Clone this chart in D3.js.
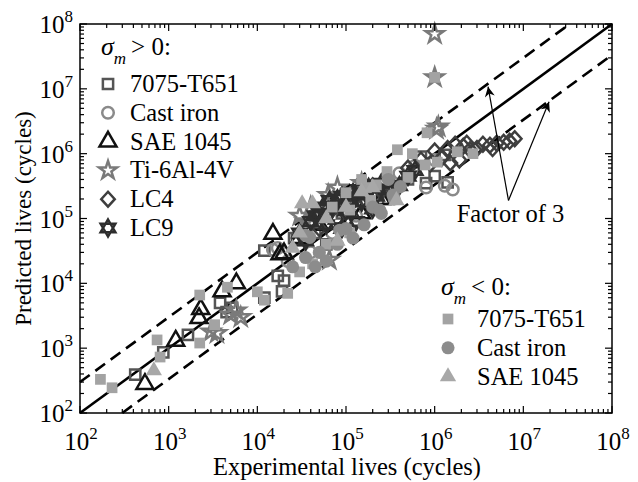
<!DOCTYPE html>
<html lang="en">
<head>
    <title>Predicted vs experimental lives</title>
    <script src='https://d3js.org/d3.v7.min.js'></script>
    <style>
        body { margin: 0; background: #fff; }
        text { font-family: "Liberation Serif", "Times New Roman", serif; fill: #000; }
    </style>
</head>
<body>
<script>

// experimental life vs predicted life, in cycles  [exp, pred]
var sq7075Pos = [[420, 390], [870, 860], [1650, 1600], [3800, 5000], [4500, 3600], [5200, 4200],
    [1.2e4, 6000], [1.9e4, 7500], [2.0e4, 1.1e4], [1.2e4, 3.2e4], [2.6e4, 5e4], [1.7e4, 1.3e4],
    [2.8e4, 4.7e4], [4.5e4, 6e4], [6e4, 4e4], [9e4, 1.2e5], [1.3e5, 1.6e5], [2e5, 2.5e5],
    [3e5, 2e5], [5e5, 4e5], [8e5, 3.5e5], [1.4e6, 3.6e5], [1.3e6, 9.6e5], [7e5, 9e5], [1.0e6, 4.5e5]];
var circCastPos = [[1.6e6, 2.8e5], [1.7e4, 3.5e4], [1.5e4, 3.3e4], [2.2e4, 2.2e4], [4e4, 3e4],
    [7e4, 6e4], [1.3e5, 1.1e5], [2.5e5, 2.8e5], [4e5, 5e5], [6e5, 6.5e5], [8e5, 3e5], [1.0e6, 8e5], [1.3e6, 3.2e5]];
var triSaePos = [[540, 280], [1200, 1300], [2200, 2900], [2300, 4000], [4000, 7500], [5800, 1e4],
    [1.5e4, 5.8e4], [2e4, 2.9e4], [1.8e4, 2.8e4], [3e4, 5e4], [5e4, 8e4], [8e4, 1e5], [1.5e5, 1.2e5], [2.5e5, 2e5]];
var starTiPos = [[1e6, 7e7], [1e6, 1.5e7], [1.05e6, 2.4e6], [3000, 1800], [3500, 1700], [5000, 3300],
    [5800, 3800], [6500, 3000], [6.5e4, 2.3e4], [3e4, 1.1e5], [6.3e4, 2.3e5], [4e4, 1.5e5],
    [3.5e4, 9e4], [8e4, 3e5], [1.2e5, 2e5], [1.5e5, 3.5e5], [1.1e6, 2.6e6]];
var diamLc4Pos = [[5e4, 7e4], [8e4, 1e5], [1.1e5, 1.6e5], [1.6e5, 2e5], [2.5e5, 2.6e5], [3.5e5, 3e5],
    [5e5, 6e5], [7e5, 8e5], [9e5, 7e5], [1.2e6, 8.5e5], [1.5e6, 7.2e5], [1.9e6, 8e5], [1.4e6, 1.2e6],
    [1.7e6, 1.4e6], [2.1e6, 1.3e6], [2.5e6, 1.15e6], [3e6, 1.2e6], [3.5e6, 1.4e6], [4.2e6, 1.35e6],
    [5e6, 1.45e6], [6e6, 1.5e6], [7e6, 1.55e6], [8e6, 1.7e6], [2.3e6, 1.45e6], [4.5e6, 1.2e6], [1.0e6, 1.1e6],
    [6e4, 1.3e5], [9e4, 1.6e5], [1.3e5, 2.2e5], [2e5, 3.2e5]];
var hexLc9Pos = [[3e4, 6e4], [4e4, 9e4], [5e4, 1.2e5], [6e4, 8e4], [7e4, 1.5e5], [8e4, 2e5],
    [1e5, 1.3e5], [1.2e5, 2.5e5], [1.5e5, 1.8e5], [1.8e5, 3e5], [2.2e5, 2.2e5], [2.5e5, 3.5e5],
    [3e5, 2.8e5], [4e5, 3.2e5], [5e5, 4.5e5], [3.5e4, 4.5e4], [9e4, 7e4], [1.3e5, 9e4], [6e5, 5.5e5], [2e5, 1.4e5],
    [4.5e4, 1.1e5], [5.5e4, 1.5e5], [6.5e4, 1.9e5], [9e4, 2.2e5], [1.1e5, 1.9e5], [1.4e5, 2.8e5], [1.7e5, 2.3e5]];
var sq7075Neg = [[170, 330], [230, 245], [740, 1340], [800, 730], [2240, 6600], [2240, 1200], [3300, 2300],
    [4600, 8700], [1e4, 7400], [1.2e4, 5500], [2.2e4, 7000], [3e4, 1.5e4], [4.2e4, 2e4], [6e4, 4e4],
    [1.1e5, 6e4], [3.8e5, 1.15e6], [2.9e5, 5.3e5], [5e5, 4.3e5], [7.8e5, 6.7e5], [8.2e5, 2.1e6],
    [2.2e5, 3.3e5], [5.6e5, 1e6], [1.07e6, 7.4e5], [1.8e6, 1.07e6], [2.7e6, 1.0e6], [1.7e5, 3e5],
    [1.1e5, 1.35e5], [1.9e5, 1.9e5], [1e5, 2.5e5], [1.5e5, 4e5], [7e4, 1.5e5], [1e6, 1.5e7]];
var circCastNeg = [[3.5e4, 2.5e4], [4.5e4, 1.8e4], [5e4, 3e4], [6e4, 2.2e4], [8e4, 4e4], [1.2e5, 5e4],
    [1e5, 7e4], [1.6e5, 8e4], [2e5, 1.5e5], [2.5e5, 1.2e5], [3.5e5, 2e5], [2.5e4, 1.8e4], [3e5, 4e5],
    [3.5e4, 5.5e4], [8.5e4, 6.6e4], [3.9e4, 5.1e4], [4.1e5, 3.1e5], [3.4e5, 2.3e5], [2.4e5, 1.35e5]];
var triSaeNeg = [[680, 450], [4.2e4, 1.7e5], [3.2e4, 1.7e5], [2.5e4, 3.5e4], [6e4, 1e5], [3.7e5, 1.9e5],
    [1e5, 1.5e5], [1.5e5, 2.6e5], [3e4, 6e4], [2e5, 3e5], [8e4, 4.5e4]];

var posNames = ["7075-T651", "Cast iron", "SAE 1045", "Ti-6Al-4V", "LC4", "LC9"];
var negNames = ["7075-T651", "Cast iron", "SAE 1045"];
var decades = [1e2, 1e3, 1e4, 1e5, 1e6, 1e7, 1e8];
var factor = 3;

const width = 638, height = 482;
const mLeft = 80, mRight = 612, mTop = 24, mBottom = 413;

const svg = d3.select("body").append("svg")
    .attr("width", width).attr("height", height);

const x = d3.scaleLog().domain([1e2, 1e8]).range([mLeft, mRight]);
const y = d3.scaleLog().domain([1e2, 1e8]).range([mBottom, mTop]);

// custom marker shapes
const diamond = {
    draw(ctx, size) {
        const w = Math.sqrt(size) * 0.66, h = w * 1.1;
        ctx.moveTo(0, -h); ctx.lineTo(w, 0); ctx.lineTo(0, h); ctx.lineTo(-w, 0); ctx.closePath();
    }
};
const hexagram = {
    draw(ctx, size) {
        const r = Math.sqrt(size) * 0.85;
        [-90, 90].forEach(function (a0) {
            for (let k = 0; k < 3; k++) {
                const a = (a0 + k * 120) * Math.PI / 180;
                if (k == 0) ctx.moveTo(r * Math.cos(a), r * Math.sin(a));
                else ctx.lineTo(r * Math.cos(a), r * Math.sin(a));
            }
            ctx.closePath();
        });
    }
};

var openSeries = [
    { data: sq7075Pos,  type: d3.symbolSquare,   size: 105, color: "#555555" },
    { data: circCastPos, type: d3.symbolCircle,  size: 105, color: "#8a8a8a" },
    { data: triSaePos,  type: d3.symbolTriangle, size: 125, color: "#111111" },
    { data: starTiPos,  type: d3.symbolStar,     size: 100, color: "#7a7a7a" },
    { data: diamLc4Pos, type: diamond,           size: 105, color: "#3e3e3e" },
    { data: hexLc9Pos,  type: hexagram,          size: 100, color: "#2e2e2e" }
];
var filledSeries = [
    { data: sq7075Neg,  type: d3.symbolSquare,   size: 115, color: "#a3a3a3" },
    { data: circCastNeg, type: d3.symbolCircle,  size: 135, color: "#8c8c8c" },
    { data: triSaeNeg,  type: d3.symbolTriangle, size: 115, color: "#a8a8a8" }
];

// reference lines: 1:1 and factor of 3
var lines = [
    { k: 1,          dash: null },
    { k: factor,     dash: "12,7" },
    { k: 1 / factor, dash: "12,7" }
];
lines.forEach(function (l) {
    const x0 = Math.max(1e2, 1e2 / l.k), x1 = Math.min(1e8, 1e8 / l.k);
    svg.append("line")
        .attr("x1", x(x0)).attr("y1", y(x0 * l.k))
        .attr("x2", x(x1)).attr("y2", y(x1 * l.k))
        .attr("stroke", "#000").attr("stroke-width", 2.6)
        .attr("stroke-dasharray", l.dash);
});

// points
openSeries.forEach(function (s) {
    svg.append("g").selectAll("path").data(s.data).enter().append("path")
        .attr("transform", function (d) { return "translate(" + x(d[0]) + "," + y(d[1]) + ")"; })
        .attr("d", d3.symbol().type(s.type).size(s.size))
        .attr("fill", "none").attr("stroke", s.color).attr("stroke-width", 2.5);
});
filledSeries.forEach(function (s) {
    svg.append("g").selectAll("path").data(s.data).enter().append("path")
        .attr("transform", function (d) { return "translate(" + x(d[0]) + "," + y(d[1]) + ")"; })
        .attr("d", d3.symbol().type(s.type).size(s.size))
        .attr("fill", s.color);
});

// frame and ticks (inward, all four sides)
svg.append("rect").attr("x", mLeft).attr("y", mTop)
    .attr("width", mRight - mLeft).attr("height", mBottom - mTop)
    .attr("fill", "none").attr("stroke", "#000").attr("stroke-width", 1.5);

const ticks = x.ticks();
const isMajor = function (v) { return Math.abs(Math.log10(v) - Math.round(Math.log10(v))) < 1e-6; };
const tg = svg.append("g").attr("stroke", "#000").attr("stroke-width", 1.2);
ticks.forEach(function (v) {
    const len = isMajor(v) ? 7 : 4;
    tg.append("line").attr("x1", x(v)).attr("x2", x(v)).attr("y1", mBottom).attr("y2", mBottom - len);
    tg.append("line").attr("x1", x(v)).attr("x2", x(v)).attr("y1", mTop).attr("y2", mTop + len);
    tg.append("line").attr("y1", y(v)).attr("y2", y(v)).attr("x1", mLeft).attr("x2", mLeft + len);
    tg.append("line").attr("y1", y(v)).attr("y2", y(v)).attr("x1", mRight).attr("x2", mRight - len);
});

// tick labels 10^n
decades.forEach(function (v) {
    const n = Math.round(Math.log10(v));
    const tx = svg.append("text").attr("x", x(v) + 1).attr("y", mBottom + 37)
        .attr("text-anchor", "middle").attr("font-size", 25);
    tx.append("tspan").text("10");
    tx.append("tspan").attr("dy", -11).attr("font-size", 17).text(n);

    const ty = svg.append("text").attr("x", mLeft - 7).attr("y", y(v) + 9)
        .attr("text-anchor", "end").attr("font-size", 25);
    ty.append("tspan").text("10");
    ty.append("tspan").attr("dy", -11).attr("font-size", 17).text(n);
});

// axis titles
svg.append("text").attr("x", (mLeft + mRight) / 2 + 1).attr("y", 475)
    .attr("text-anchor", "middle").attr("font-size", 24.5).text("Experimental lives (cycles)");
svg.append("text").attr("transform", "translate(31," + (mTop + mBottom) / 2 + ") rotate(-90)")
    .attr("text-anchor", "middle").attr("font-size", 23).text("Predicted lives (cycles)");

// arrows for factor of 3
svg.append("defs").append("marker")
    .attr("id", "head").attr("viewBox", "0 0 10 10").attr("refX", 10).attr("refY", 5)
    .attr("markerWidth", 15).attr("markerHeight", 10).attr("markerUnits", "userSpaceOnUse")
    .attr("orient", "auto")
    .append("path").attr("d", "M0,0 L10,5 L0,10 L3,5 Z").attr("fill", "#000");

var apex = [6.8e6, 1.9e5];
var tips = [[4e6, 1.08e7], [1.95e7, 6.3e6]];
tips.forEach(function (t) {
    svg.append("line")
        .attr("x1", x(apex[0])).attr("y1", y(apex[1]))
        .attr("x2", x(t[0])).attr("y2", y(t[1]))
        .attr("stroke", "#000").attr("stroke-width", 1.2)
        .attr("marker-end", "url(#head)");
});
svg.append("text").attr("x", x(apex[0]) + 2).attr("y", y(apex[1]) + 22)
    .attr("text-anchor", "middle").attr("font-size", 24.5).text("Factor of " + factor);

// legends
function legend(x0, yHead, yRow, textDx, sign, names, series, open) {
    const t = svg.append("text").attr("x", x0).attr("y", yHead).attr("font-size", 26);
    t.append("tspan").attr("font-style", "italic").text("σ");
    t.append("tspan").attr("font-style", "italic").attr("font-size", 17).attr("dy", 9).text("m");
    t.append("tspan").attr("dy", -9).attr("dx", 5).attr("font-size", 25).text(sign + " 0:");
    names.forEach(function (name, i) {
        const cy = yRow + i * 28.8;
        const s = series[i];
        const p = svg.append("path")
            .attr("transform", "translate(" + (x0 + 7) + "," + cy + ")")
            .attr("d", d3.symbol().type(s.type).size(s.size));
        if (open) p.attr("fill", "none").attr("stroke", s.color).attr("stroke-width", 2.5);
        else p.attr("fill", s.color);
        svg.append("text").attr("x", x0 + 7 + textDx).attr("y", cy + 8).attr("font-size", 24.5).text(name);
    });
}
legend(101, 55, 84, 22, ">", posNames, openSeries, true);
legend(441, 295, 319, 29, "<", negNames, filledSeries, false);

</script>
</body>
</html>
